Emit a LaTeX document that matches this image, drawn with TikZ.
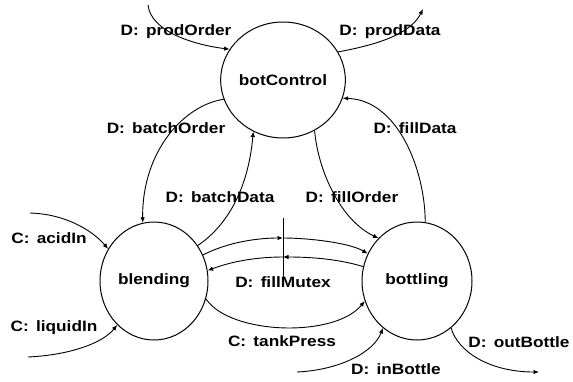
\documentclass[tikz,border=0pt]{standalone}
\usepackage{fontspec}
\setmainfont{Liberation Sans}[FakeStretch=1.15]
\usetikzlibrary{shapes.geometric,arrows.meta}
% gap between a flow kind and its name
\newcommand\flowgap{\kern2.5pt\ }

\begin{document}
\begin{tikzpicture}[x=1pt,y=-1pt,
  txt/.style={font=\fontsize{15}{15}\selectfont\bfseries},
  proc/.style={ellipse, draw, line width=1pt, inner sep=0pt, txt},
  lbl/.style={inner sep=0pt, txt},
  flow/.style={line width=0.9pt, -{Latex[length=5.5pt,width=4.5pt]}},
  line/.style={line width=0.9pt}]
\useasboundingbox (0,0) rectangle (573,381);

% processes
\node[proc, minimum width=112pt, minimum height=116pt] (bc) at (283,80) {botControl};
\node[proc, minimum width=108pt, minimum height=118pt] (bl) at (154,281) {blending};
\node[proc, minimum width=110pt, minimum height=118pt] (bt) at (417,281) {bottling};

% free ends of external flows
\coordinate (poIn)  at (148,5);
\coordinate (pdOut) at (423,9);
\coordinate (acIn)  at (30,213);
\coordinate (lqIn)  at (28,357);
\coordinate (ibIn)  at (297,372);
\coordinate (obOut) at (539,372);

% mutex bar and its crossing points
\coordinate (barTop) at (283,218);
\coordinate (barBot) at (283,287);
\coordinate (mxUp)   at (283,238);
\coordinate (mxLo)   at (283,257);

% external flows
\draw[flow] (poIn) .. controls (151,32) and (195,45) .. (bc.150);
\draw[flow] (bc.27) .. controls (375,45) and (410,35) .. (pdOut);
\draw[flow] (acIn) .. controls (65,214) and (92,230) .. (bl.145);
\draw[flow] (lqIn) .. controls (70,355) and (103,343) .. (bl.230);
\draw[flow] (ibIn) .. controls (340,370) and (374,352) .. (bt.234);
\draw[flow] (bt.306) .. controls (458,352) and (490,372) .. (obOut);

% internal flows
\draw[flow] (bc.198) .. controls (185,105) and (142,150) .. (bl.101);
\draw[flow] (bl.39) .. controls (238,218) and (250,170) .. (bc.240);
\draw[flow] (bc.302) .. controls (318,170) and (340,220) .. (bt.132);
\draw[flow] (bt.82) .. controls (425,170) and (398,100) .. (bc.343);
\draw[flow] (bl.341) .. controls (230,335) and (335,338) .. (bt.201);

% fillMutex exchange
\draw[line] (barTop) -- (barBot);
\draw[flow] (bl.28) .. controls (228,242) and (258,238) .. (mxUp);
\draw[flow] (mxUp) .. controls (310,238) and (350,243) .. (bt.151);
\draw[flow] (bt.165) .. controls (335,258) and (305,257) .. (mxLo);
\draw[flow] (mxLo) .. controls (255,257) and (230,262) .. (bl.11);

% flow labels
\node[lbl] at (176,32)  {D:\flowgap prodOrder};
\node[lbl] at (390,32)  {D:\flowgap prodData};
\node[lbl] at (166,128) {D:\flowgap batchOrder};
\node[lbl] at (415,128) {D:\flowgap fillData};
\node[lbl] at (220,197) {D:\flowgap batchData};
\node[lbl] at (352,197) {D:\flowgap fillOrder};
\node[lbl] at (49,238)  {C:\flowgap acidIn};
\node[lbl] at (283,282) {D:\flowgap fillMutex};
\node[lbl] at (54,328)  {C:\flowgap liquidIn};
\node[lbl] at (282,341) {C:\flowgap tankPress};
\node[lbl] at (519,342) {D:\flowgap outBottle};
\node[lbl] at (396,369) {D:\flowgap inBottle};
\end{tikzpicture}
\end{document}
